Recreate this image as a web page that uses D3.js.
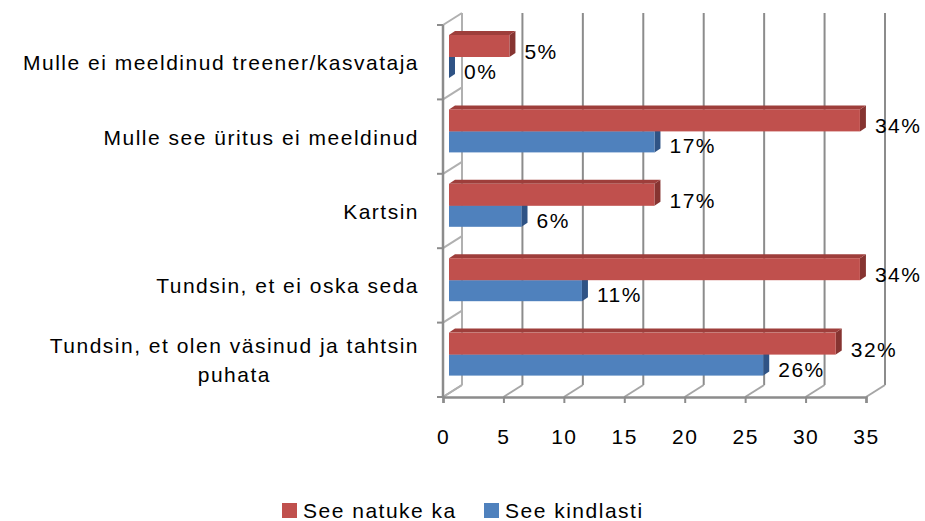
<!DOCTYPE html>
<html>
<head>
<meta charset="utf-8">
<script src="https://cdn.jsdelivr.net/npm/d3@7"></script>
<style>
  body { margin: 0; background: #fff; }
  text { font-family: "Liberation Sans", Arial, sans-serif; font-size: 21px; letter-spacing: 1.5px; fill: #000; }
</style>
</head>
<body>
<div class="chart"></div>
<script>
// categories top to bottom, wrapped lines split by \n
var categories = [
    'Mulle ei meeldinud treener/kasvataja',
    'Mulle see üritus ei meeldinud',
    'Kartsin',
    'Tundsin, et ei oska seda',
    'Tundsin, et olen väsinud ja tahtsin\npuhata'
]
var natuke = [5, 34, 17, 34, 32]
var kindlasti = [0, 17, 6, 11, 26]
var seriesNames = ['See natuke ka', 'See kindlasti']
var xTicks = [0, 5, 10, 15, 20, 25, 30, 35]

var svgWidth = 925
var svgHeight = 521

var svg = d3.select('.chart').append('svg')
    .attr('width', svgWidth)
    .attr('height', svgHeight)

// front plane, back wall, and bar plane (bars sit a little into the depth)
var xFront = d3.scaleLinear().domain([0, 35]).range([443, 866])
var xBack = d3.scaleLinear().domain([0, 35]).range([462, 885])
var xBar = d3.scaleLinear().domain([0, 35]).range([449, 872])
var y = d3.scaleBand().domain(categories).range([25, 397])
var dx = 19, dy = -12
var grid = '#8c8c8c'

// back wall gridlines
svg.append('g').selectAll('line').data(xTicks).join('line')
    .attr('x1', d => xBack(d)).attr('x2', d => xBack(d))
    .attr('y1', 25 + dy).attr('y2', 397 + dy)
    .attr('stroke', grid).attr('stroke-width', 2)

// floor diagonals
svg.append('g').selectAll('line').data(xTicks).join('line')
    .attr('x1', d => xFront(d)).attr('y1', 397)
    .attr('x2', d => xBack(d)).attr('y2', 397 + dy)
    .attr('stroke', '#a6a6a6').attr('stroke-width', 2)

// left wall
var bounds = categories.map(c => y(c)).concat([y.range()[1]])
svg.append('line').attr('x1', 462).attr('x2', 462)
    .attr('y1', 25 + dy).attr('y2', 397 + dy)
    .attr('stroke', '#b0b0b0').attr('stroke-width', 2)
svg.append('g').selectAll('line').data(bounds).join('line')
    .attr('x1', 443).attr('y1', d => d)
    .attr('x2', 443 + dx).attr('y2', d => d + dy)
    .attr('stroke', '#b0b0b0').attr('stroke-width', 2)
svg.append('line').attr('x1', 443).attr('x2', 443)
    .attr('y1', 25).attr('y2', 397)
    .attr('stroke', grid).attr('stroke-width', 2.5)
svg.append('g').selectAll('line').data(bounds).join('line')
    .attr('x1', 437).attr('x2', 443)
    .attr('y1', d => d).attr('y2', d => d)
    .attr('stroke', grid).attr('stroke-width', 2)

// x axis along the front floor edge
var xAxis = svg.append('g')
    .attr('transform', 'translate(0, 397)')
    .call(d3.axisBottom(xFront).tickValues(xTicks).tickSize(6).tickPadding(26))
xAxis.select('.domain').attr('stroke', grid).attr('stroke-width', 2.5)
xAxis.selectAll('.tick line').attr('stroke', grid).attr('stroke-width', 2)
xAxis.selectAll('.tick text').attr('font-size', 21).attr('font-family', null)

// bars (3d boxes)
var depthX = 6, depthY = -4
function drawBar(g, cat, v, top, h, front, topCol, side) {
    var x0 = xBar(0), x1 = xBar(v), y0 = y(cat) + top
    g.append('polygon')
        .attr('points', [[x1, y0], [x1 + depthX, y0 + depthY], [x1 + depthX, y0 + h + depthY], [x1, y0 + h]].join(' '))
        .attr('fill', side)
    g.append('polygon')
        .attr('points', [[x0, y0], [x1, y0], [x1 + depthX, y0 + depthY], [x0 + depthX, y0 + depthY]].join(' '))
        .attr('fill', topCol)
    g.append('rect')
        .attr('x', x0).attr('y', y0)
        .attr('width', x1 - x0).attr('height', h)
        .attr('fill', front)
}

var bars = svg.append('g')
categories.forEach((c, i) => {
    drawBar(bars, c, kindlasti[i], 32, 21, '#4f81bd', '#4572a7', '#2f5385')
    drawBar(bars, c, natuke[i], 10, 22, '#c0504d', '#9e3e3b', '#863431')
})

// value labels
var labels = svg.append('g')
categories.forEach((c, i) => {
    labels.append('text')
        .attr('x', xBar(natuke[i]) + 15).attr('y', y(c) + 21 + 13)
        .text(natuke[i] + '%')
    labels.append('text')
        .attr('x', xBar(kindlasti[i]) + 15).attr('y', y(c) + 42 + 12)
        .text(kindlasti[i] + '%')
})

// category labels
categories.forEach(c => {
    var lines = c.split('\n')
    var t = svg.append('text')
        .attr('text-anchor', 'middle')
    lines.forEach((l, k) => {
        t.append('tspan')
            .attr('x', 0)
            .attr('y', y(c) + y.bandwidth() / 2 + 8 - (lines.length - 1) * 14.5 + k * 29)
            .text(l)
    })
    var w = t.node().getBBox().width
    t.attr('transform', 'translate(' + (419 - w / 2) + ',0)')
})

// legend
var legendColors = ['#c0504d', '#4f81bd']
var legendX = [282, 484]
var legend = svg.append('g')
seriesNames.forEach((s, i) => {
    legend.append('rect')
        .attr('x', legendX[i]).attr('y', 503)
        .attr('width', 15).attr('height', 15)
        .attr('fill', legendColors[i])
    legend.append('text')
        .attr('x', legendX[i] + 21).attr('y', 518)
        .text(s)
})
</script>
</body>
</html>
